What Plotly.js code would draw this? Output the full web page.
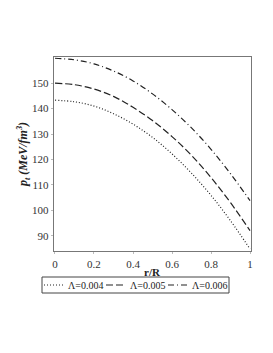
<!DOCTYPE html>
<html><head><meta charset="utf-8">
<script src="https://cdn.plot.ly/plotly-3.0.1.min.js"></script>
<style>body{margin:0;padding:0;background:#fff}#c{width:273px;height:353px}</style>
</head><body><div id="c"></div>
<script>
const r = [0, 0.1, 0.2, 0.3, 0.4, 0.5, 0.6, 0.7, 0.8, 0.9, 1.0];
const p004 = [143.3, 142.7, 141.0, 138.0, 133.9, 128.7, 122.2, 114.6, 105.9, 95.9, 84.8];
const p005 = [150.0, 149.4, 147.7, 144.8, 140.5, 135.3, 129.0, 121.6, 112.9, 103.0, 92.0];
const p006 = [159.8, 159.2, 157.6, 154.8, 150.9, 145.8, 139.6, 132.4, 124.0, 114.4, 103.8];
const names = ['\u039B=0.004', '\u039B=0.005', '\u039B=0.006'];
const dashes = ['1px,2px', '7px,3px', '6px,3px,1px,3px'];
const series = [p004, p005, p006];
const xTicks = [0, 0.2, 0.4, 0.6, 0.8, 1];
const xTickText = ['0', '0.2', '0.4', '0.6', '0.8', '1'];
const yTicks = [90, 100, 110, 120, 130, 140, 150];

const L = 54, R = 251, T = 57, B = 251, W = 273, H = 353;
const px = v => (v - L) / (R - L);
const py = v => (B - v) / (B - T);

const traces = series.map((s, i) => ({
  x: r, y: s, type: 'scatter', mode: 'lines', name: names[i], showlegend: false,
  line: {color: '#222', width: 1.2, dash: dashes[i], shape: 'spline'}
}));

// custom legend
const shapes = [{type: 'rect', xref: 'paper', yref: 'paper',
  x0: px(42), x1: px(229), y0: py(277), y1: py(293),
  line: {color: '#444', width: 1}, fillcolor: 'rgba(0,0,0,0)'}];
const annotations = [{xref: 'paper', yref: 'paper', x: 0.5, y: py(271.5),
  xanchor: 'center', yanchor: 'middle', text: '<b>r/R</b>', showarrow: false,
  font: {family: 'Liberation Serif', size: 11, color: '#222'}}];
const itemW = 62;
names.forEach((n, i) => {
  const s = 42 + itemW * i;
  shapes.push({type: 'line', xref: 'paper', yref: 'paper',
    x0: px(s + 2), x1: px(s + 21), y0: py(285), y1: py(285),
    line: {color: '#222', width: 1.2, dash: dashes[i]}});
  annotations.push({xref: 'paper', yref: 'paper', x: px(s + 24), y: py(285),
    xanchor: 'left', yanchor: 'middle', text: n, showarrow: false,
    font: {family: 'Liberation Serif', size: 10, color: '#222'}});
});

const axisCommon = {
  showline: true, linecolor: '#777', linewidth: 1.3, mirror: true,
  showgrid: false, zeroline: false, ticks: 'outside', ticklen: 2, tickcolor: '#bbb',
  tickfont: {family: 'Liberation Serif', size: 11, color: '#333'}
};

const layout = {
  width: W, height: H,
  margin: {l: L, r: W - R, t: T, b: H - B},
  paper_bgcolor: '#fff', plot_bgcolor: '#fff',
  xaxis: Object.assign({}, axisCommon, {
    range: [-0.005, 1.005], tickvals: xTicks, ticktext: xTickText
  }),
  yaxis: Object.assign({}, axisCommon, {
    range: [84, 160.3], tickvals: yTicks,
    title: {text: '<b><i>p<sub>t</sub> (MeV/fm<sup>3</sup>)</i></b>', font: {family: 'Liberation Serif', size: 12, color: '#222'}, standoff: 1}
  }),
  shapes: shapes, annotations: annotations
};
Plotly.newPlot('c', traces, layout, {displayModeBar: false, staticPlot: true});
</script></body></html>
